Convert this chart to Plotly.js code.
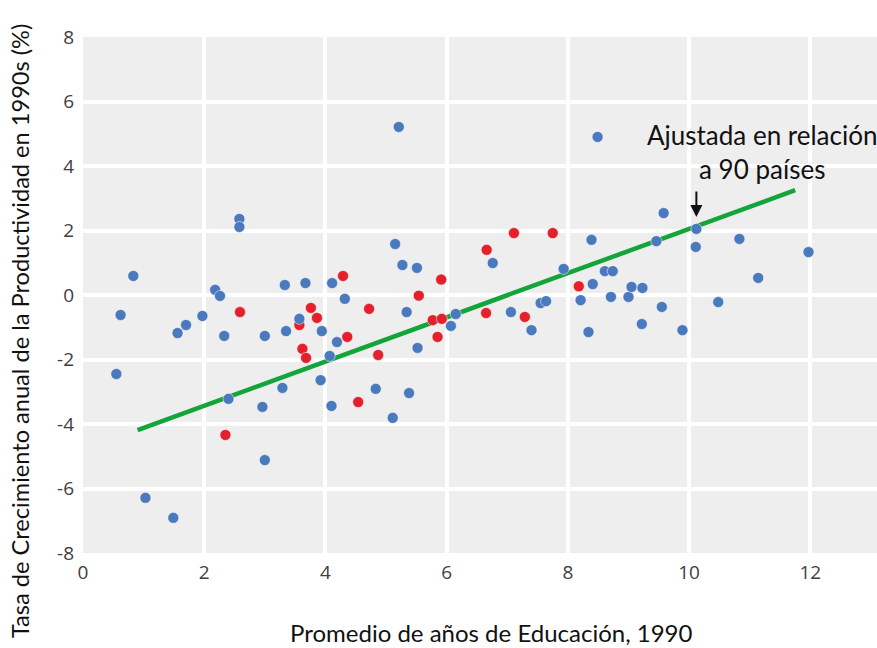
<!DOCTYPE html>
<html>
<head>
<meta charset="utf-8">
<script src="https://cdn.plot.ly/plotly-3.0.1.min.js"></script>
<style>html,body{margin:0;padding:0;background:#fff;overflow:hidden;}#chart{width:877px;height:648px;}</style>
</head>
<body>
<div id="chart"></div>
<script>
// Blue countries
const blueX = [0.55,0.62,0.83,1.03,1.49,1.56,1.70,1.97,2.18,2.26,2.33,2.40,2.58,2.58,3.00,2.96,3.00,3.33,3.35,3.29,3.57,3.67,3.92,3.94,4.11,4.07,4.10,4.19,4.32,4.83,5.11,5.38,5.15,5.21,5.27,5.51,5.34,5.52,6.07,6.15,6.76,7.06,7.40,7.55,7.64,7.93,8.21,8.34,8.39,8.41,8.49,8.61,8.74,8.71,9.00,9.05,9.22,9.23,9.46,9.55,9.58,9.89,10.11,10.12,10.48,10.83,11.14,11.97];
const blueY = [-2.45,-0.62,0.59,-6.29,-6.91,-1.18,-0.93,-0.65,0.16,-0.03,-1.27,-3.22,2.36,2.11,-1.27,-3.47,-5.12,0.31,-1.12,-2.88,-0.74,0.37,-2.64,-1.12,0.37,-1.89,-3.44,-1.46,-0.12,-2.91,-3.81,-3.04,1.58,5.21,0.93,0.84,-0.53,-1.64,-0.96,-0.59,0.99,-0.53,-1.09,-0.25,-0.19,0.81,-0.16,-1.15,1.71,0.34,4.90,0.74,0.74,-0.06,-0.06,0.25,-0.90,0.22,1.67,-0.37,2.54,-1.09,1.49,2.05,-0.22,1.74,0.53,1.33];
// Red countries
const redX = [2.35,2.59,3.57,3.62,3.68,3.76,3.86,4.29,4.36,4.54,4.72,4.87,5.54,5.77,5.85,5.91,5.92,6.65,6.66,7.11,7.29,7.75,8.18];
const redY = [-4.34,-0.53,-0.93,-1.67,-1.95,-0.40,-0.71,0.59,-1.30,-3.32,-0.43,-1.86,-0.02,-0.78,-1.30,0.48,-0.74,-0.56,1.40,1.92,-0.68,1.92,0.27];
// Fitted line
const fitX = [0.9, 11.75];
const fitY = [-4.19, 3.25];
// Axis ticks
const xTicks = [0, 2, 4, 6, 8, 10, 12];
const yTicks = [-8, -6, -4, -2, 0, 2, 4, 6, 8];
const xTitle = "Promedio de años de Educación, 1990";
const yTitle = "Tasa de Crecimiento anual de la Productividad en 1990s (%)";
const noteText = "Ajustada en relación<br>a 90 países";

const titleFont = "Lato, sans-serif";
const tickFont = {family: "Open Sans, sans-serif", size: 19, color: "#404040"};

const data = [
  {x: fitX, y: fitY, mode: "lines", type: "scatter", line: {color: "#13a53a", width: 4.5}, hoverinfo: "skip"},
  {x: redX, y: redY, mode: "markers", type: "scatter", marker: {color: "#e4202c", size: 11, line: {color: "rgba(255,255,255,0.5)", width: 1}}},
  {x: blueX, y: blueY, mode: "markers", type: "scatter", marker: {color: "#4a79bd", size: 11, line: {color: "rgba(255,255,255,0.5)", width: 1}}}
];

const layout = {
  width: 877, height: 648,
  margin: {l: 83, r: 0, t: 37, b: 95, pad: 0},
  paper_bgcolor: "#ffffff",
  plot_bgcolor: "#eeeeee",
  showlegend: false,
  xaxis: {
    range: [0, 13.1], tickvals: xTicks, ticktext: xTicks.map(String),
    showgrid: true, gridcolor: "#ffffff", gridwidth: 4, zeroline: false, showline: false,
    ticks: "", tickfont: tickFont, ticklabelstandoff: 6
  },
  yaxis: {
    range: [-8, 8], tickvals: yTicks, ticktext: yTicks.map(String),
    showgrid: true, gridcolor: "#ffffff", gridwidth: 4, zeroline: false, showline: false,
    ticks: "", tickfont: tickFont, ticklabelstandoff: 8
  },
  annotations: [
    {x: 0.515, y: 0, xref: "paper", yref: "paper", yshift: -79, xanchor: "center", yanchor: "middle", text: xTitle, showarrow: false, font: {family: titleFont, size: 24, color: "#111"}},
    {x: 0, y: 0.43, xref: "paper", yref: "paper", xshift: -63, xanchor: "center", yanchor: "middle", textangle: -90, text: yTitle, showarrow: false, font: {family: titleFont, size: 23.6, color: "#111"}},
    {x: 10.12, y: 2.42, xref: "x", yref: "y", text: "", showarrow: true, arrowhead: 2, arrowsize: 1.2, arrowwidth: 2, arrowcolor: "#111", ax: 0, ay: -27},
    {x: 11.2, y: 4.43, xref: "x", yref: "y", text: noteText, showarrow: false, font: {family: titleFont, size: 26, color: "#111"}, align: "center"}
  ]
};

Plotly.newPlot("chart", data, layout, {displayModeBar: false, staticPlot: true});
</script>
</body>
</html>
